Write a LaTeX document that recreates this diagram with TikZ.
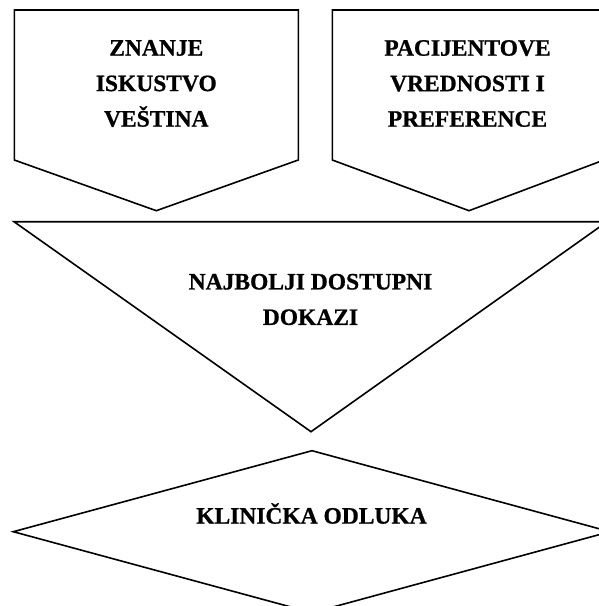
\documentclass[tikz,border=0pt]{standalone}
\usepackage{fontspec}
\setmainfont{Liberation Serif}[BoldFeatures={FakeBold=0.8}]
\begin{document}
\begin{tikzpicture}[x=1pt,y=-1pt,
  shapeline/.style={draw=black,line width=1.6pt,line join=miter},
  label/.style={font=\fontsize{23.5}{35.5}\selectfont\bfseries,align=center,inner sep=0pt,anchor=center}]
\useasboundingbox (0,0) rectangle (599,606);
% left pentagon
\draw[shapeline] (14.3,10) -- (298.3,10) -- (298.3,160) -- (156.3,210.7) -- (14.3,160) -- cycle;
% right pentagon
\draw[shapeline] (332.3,10) -- (604,10) -- (604,160) -- (469,210.7) -- (332.3,160) -- cycle;
% triangle
\draw[shapeline] (14,221.7) -- (607,221.7) -- (311,431.7) -- cycle;
% diamond
\draw[shapeline] (13.3,531.7) -- (312,450.7) -- (610,531.7) -- (312,612.7) -- cycle;
% texts
\node[label] (znanje) at (156.3,83.5) {ZNANJE\\ISKUSTVO\\VEŠTINA};
\node[label] (pacijent) at (467.5,83.5) {PACIJENTOVE\\VREDNOSTI I\\PREFERENCE};
\node[label] (dokazi) at (310.5,299.5) {NAJBOLJI DOSTUPNI\\DOKAZI};
\node[label] (odluka) at (311.5,513.5) {KLINIČKA ODLUKA};
\end{tikzpicture}
\end{document}
